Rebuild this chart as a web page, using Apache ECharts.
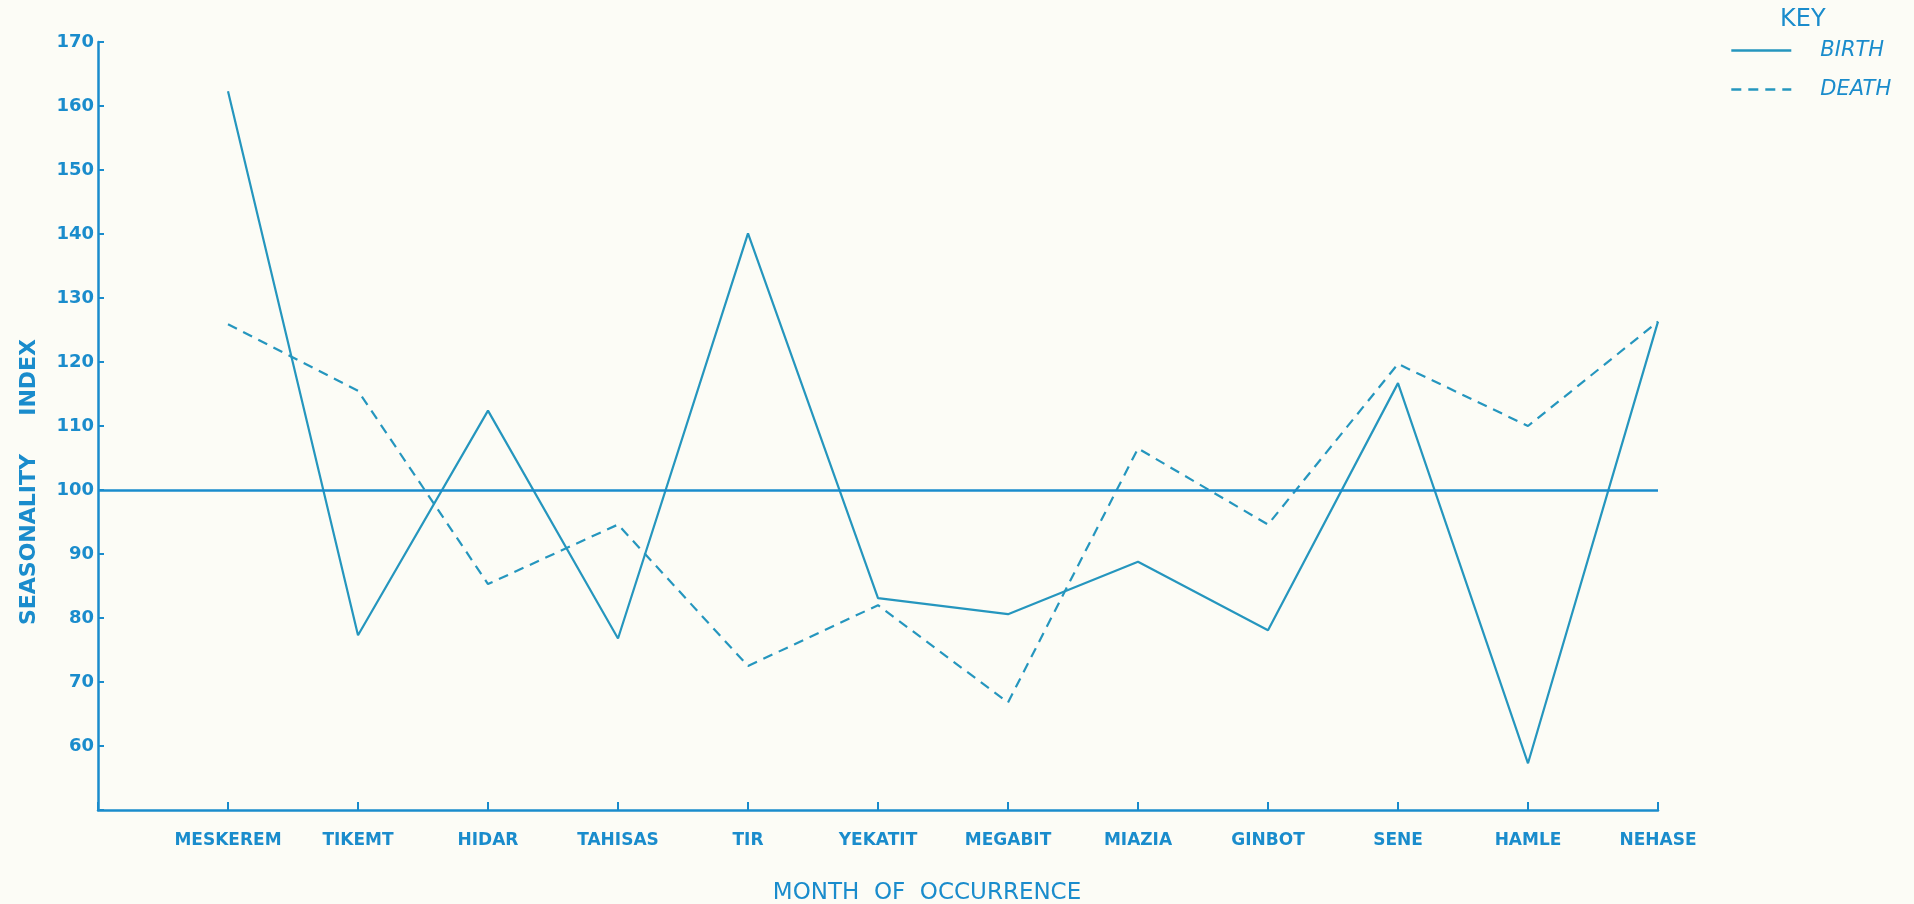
<!DOCTYPE html>
<html>
<head>
<meta charset="utf-8">
<script src="https://cdn.jsdelivr.net/npm/echarts@6/dist/echarts.min.js"></script>
<style>
html,body{margin:0;padding:0;background:#fcfcf6;}
#chart{width:1914px;height:904px;}
</style>
</head>
<body>
<div id="chart"></div>
<script>
var months = ['MESKEREM','TIKEMT','HIDAR','TAHISAS','TIR','YEKATIT','MEGABIT','MIAZIA','GINBOT','SENE','HAMLE','NEHASE'];
var birth = [162.3, 77.3, 112.4, 76.8, 140.1, 83.1, 80.6, 88.8, 78.1, 116.7, 57.3, 126.3];
var death = [125.9, 115.5, 85.3, 94.6, 72.5, 82.0, 66.8, 106.5, 94.6, 119.7, 110.0, 126.3];
var yTicks = [60, 70, 80, 90, 100, 110, 120, 130, 140, 150, 160, 170];
var reference = 100;

var INK = '#1a8ccc';
var LINE = '#2596be';

function pairs(arr){ return arr.map(function(v,i){ return [i+1, v]; }); }

var chart = echarts.init(document.getElementById('chart'), null, {renderer:'canvas'});
chart.setOption({
  backgroundColor: '#fcfcf6',
  animation: false,
  title: {
    text: 'KEY', left: 1780, top: 8, padding: 0,
    textStyle: {color: INK, fontFamily: 'DejaVu Sans', fontSize: 24, fontWeight: 'normal'}
  },
  legend: {
    left: 1730, top: 40, orient: 'vertical', padding: 0,
    itemWidth: 60, itemHeight: 24, itemGap: 18,
    data: ['BIRTH','DEATH'],
    itemStyle: {opacity: 0},
    lineStyle: {width: 2.6},
    textStyle: {color: INK, fontFamily: 'DejaVu Sans', fontSize: 21, fontStyle: 'italic', padding: [0,0,0,24]}
  },
  grid: {left: 98, right: 256, top: 42, bottom: 94, containLabel: false, outerBoundsMode: 'none'},
  xAxis: {
    type: 'value', min: 0, max: 12, interval: 1,
    name: 'MONTH  OF  OCCURRENCE', nameLocation: 'middle', nameGap: 72,
    nameTextStyle: {color: INK, fontFamily: 'DejaVu Sans', fontSize: 23, padding: [0,0,0,98]},
    axisLine: {lineStyle: {color: INK, width: 2.5}},
    axisTick: {inside: true, length: 8, lineStyle: {color: INK, width: 2}},
    splitLine: {show: false},
    axisLabel: {
      margin: 22, color: INK, fontFamily: 'DejaVu Sans', fontSize: 17, fontWeight: 'bold',
      formatter: function(v){ return months[v-1] || ''; }
    }
  },
  yAxis: {
    type: 'value', min: 50, max: 170, interval: 10,
    name: 'SEASONALITY     INDEX', nameLocation: 'middle', nameGap: 58,
    nameTextStyle: {color: INK, fontFamily: 'DejaVu Sans', fontSize: 22, fontWeight: 'bold', padding: [0,112,0,0]},
    axisLine: {show: true, lineStyle: {color: INK, width: 2.5}},
    axisTick: {inside: true, length: 6, lineStyle: {color: INK, width: 2}},
    splitLine: {show: false},
    axisLabel: {
      margin: 4, color: INK, fontFamily: 'DejaVu Sans', fontSize: 18, fontWeight: 'bold',
      formatter: function(v){ return yTicks.indexOf(v) >= 0 ? String(v) : ''; }
    }
  },
  series: [
    {
      name: 'BIRTH', type: 'line', data: pairs(birth),
      symbol: 'none', color: LINE,
      lineStyle: {color: LINE, width: 2.2, type: 'solid'},
      markLine: {
        silent: true, symbol: ['none','none'], label: {show: false},
        lineStyle: {color: INK, width: 2.5, type: 'solid'},
        data: [{yAxis: reference}]
      }
    },
    {
      name: 'DEATH', type: 'line', data: pairs(death),
      symbol: 'none', color: LINE,
      lineStyle: {color: LINE, width: 2.2, type: [10, 7]}
    }
  ]
});
</script>
</body>
</html>
